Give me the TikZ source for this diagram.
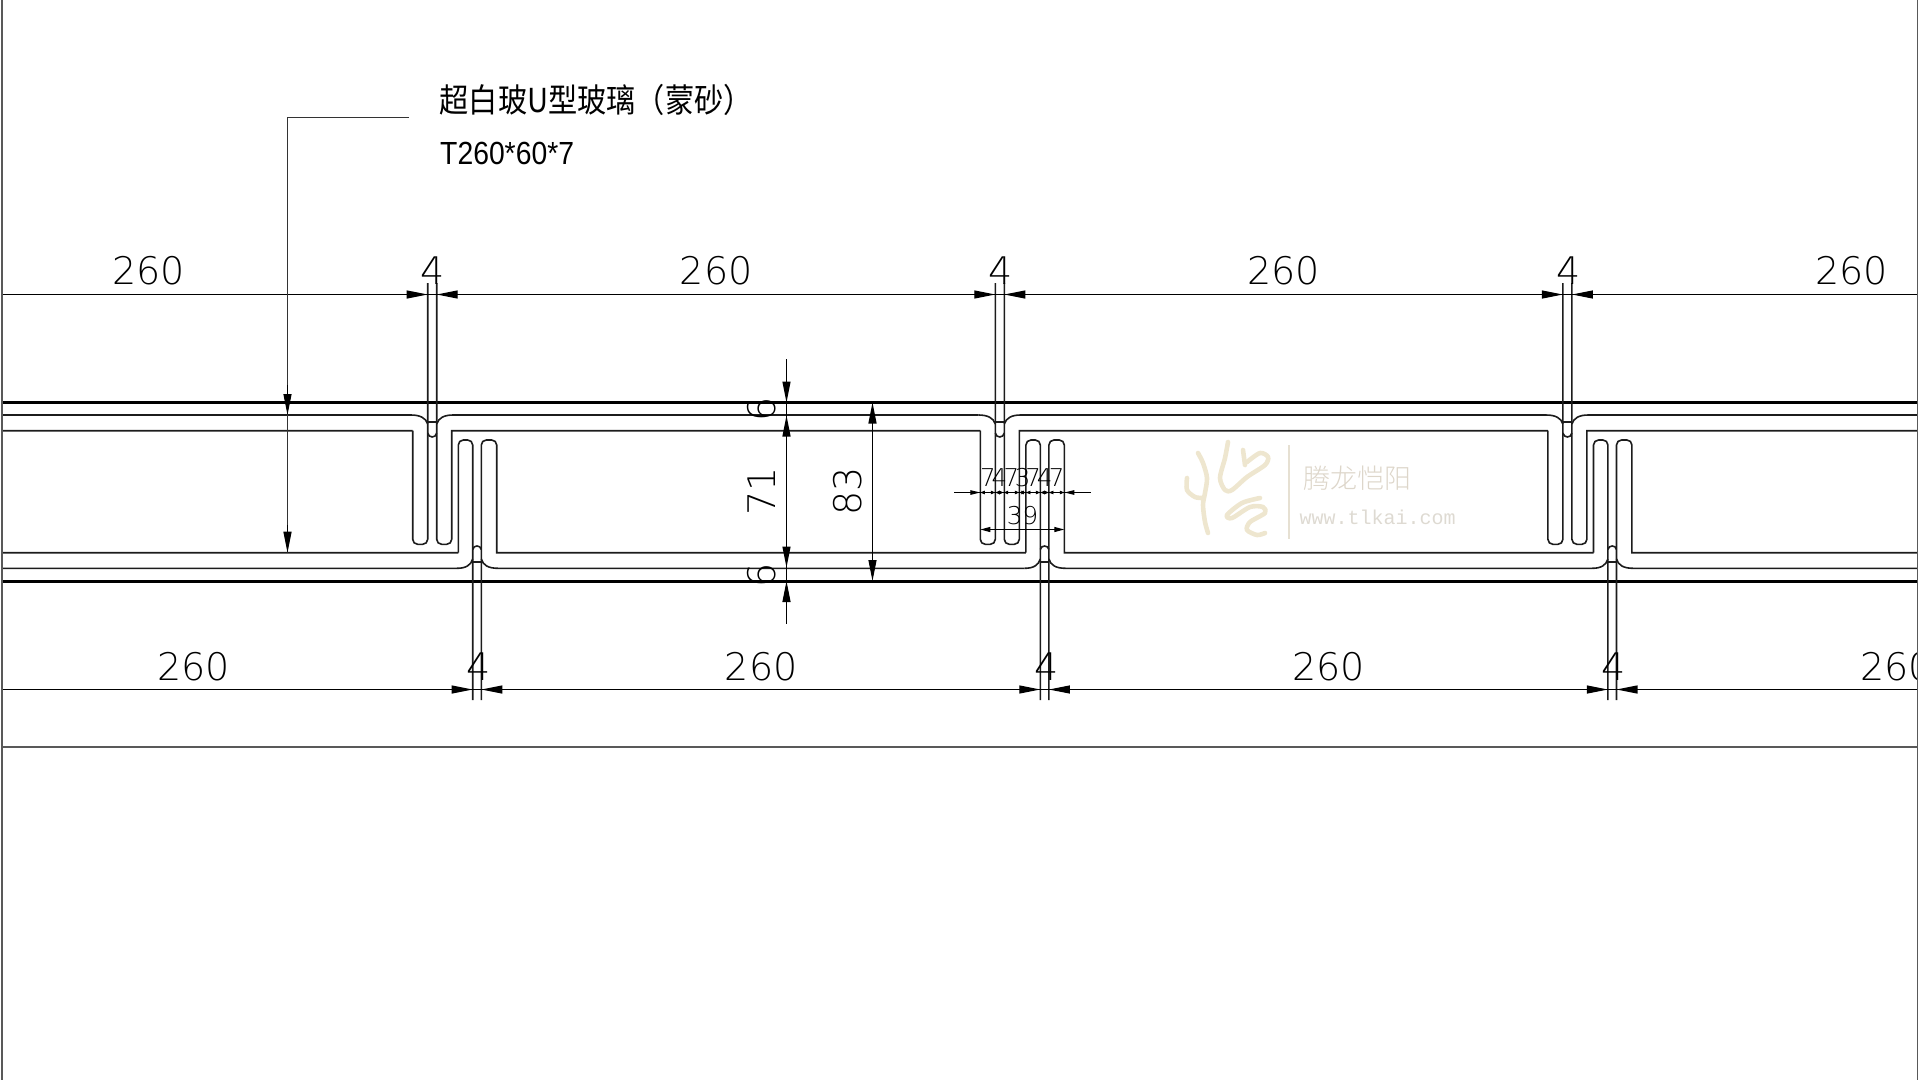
\documentclass[tikz,border=0pt]{standalone}
\usepackage{fontspec}
\usetikzlibrary{arrows.meta}
\newfontfamily\cad{DejaVu Sans ExtraLight}
\newfontfamily\cjkf{Noto Sans CJK SC}
\newfontfamily\cjkl{Noto Sans CJK SC Light}
\newfontfamily\wmono{Liberation Mono}
\newfontfamily\narrow{Liberation Sans}
\definecolor{wmline}{HTML}{E6E0D2}
\definecolor{wmtext}{HTML}{DDD6CA}
\definecolor{wmweb}{HTML}{DEDAD2}
\definecolor{wmlogo}{HTML}{EEE6CF}
\definecolor{linec}{HTML}{1C1C1C}
\tikzset{
  x=1pt,y=-1pt,
  heavy/.style={line width=3pt,draw=black},
  glass/.style={line width=1.6pt,draw=linec},
  dimline/.style={line width=1.15pt,draw=black},
  framel/.style={line width=1.3pt,draw=black!65},
  bigtip/.style={-{Triangle[length=21pt,width=8pt]}},
  dimtxt/.style={font=\cad\fontsize{38}{38}\selectfont,inner sep=0pt,anchor=base,text=black},
  smalltxt/.style={font=\cad\fontsize{24.5}{24.5}\selectfont,inner sep=0pt,anchor=center,text=black},
  rottxt/.style={font=\cad\fontsize{38}{38}\selectfont,inner sep=0pt,anchor=center,rotate=90,text=black},
  wmstroke/.style={line width=4.6pt,draw=wmlogo,line cap=round,line join=round}
}
\begin{document}
\begin{tikzpicture}
\useasboundingbox (0,0) rectangle (1920,1080);
\begin{scope}
\clip (2,0) rectangle (1917.5,1080);
% watermark
\draw[wmstroke] plot[smooth] coordinates {(1198,453) (1203,463) (1207,478) (1205,493) (1203,505) (1205,522) (1208,533)};
\draw[wmstroke] plot[smooth] coordinates {(1187,478) (1187,490) (1195,497) (1203,498)};
\draw[wmstroke] plot[smooth] coordinates {(1228,442) (1225,458) (1220,478) (1225,490) (1232,490) (1247,477) (1265,465) (1268,457) (1260,453) (1247,462)};
\draw[wmstroke] plot[smooth] coordinates {(1243,450) (1245,465)};
\draw[wmstroke] plot[smooth] coordinates {(1260,498) (1242,503) (1227,515) (1232,518) (1250,507) (1263,507) (1265,513) (1250,522) (1247,530) (1257,535) (1265,533)};
\draw[line width=1.4pt,draw=wmline] (1289,445) -- (1289,539);
\node[inner sep=0pt,anchor=center,text=wmtext,font=\cjkl\fontsize{27}{27}\selectfont] (wmname) at (1357.5,478.5) {腾龙恺阳};
\node[inner sep=0pt,anchor=center,text=wmweb,font=\wmono\fontsize{20}{20}\selectfont] (wmsite) at (1377.5,517) {www.tlkai.com};
% heavy lines
\draw[heavy] (0,402.5) -- (1920,402.5);
\draw[heavy] (0,581) -- (1920,581);
% repeated glass panels
\foreach \k in {-1,0,1,2}{
\begin{scope}[xshift=567.6*\k pt]
  % upper U
  \draw[glass] (412.7,430.7) [rounded corners=5pt] -- (412.7,544.3) -- (427.7,544.3) [sharp corners] -- (427.7,283);
  \draw[glass] (436.7,283) [rounded corners=5pt] -- (436.7,544.3) -- (451.7,544.3) [sharp corners] -- (451.7,430.7) -- (980.3,430.7);
  \draw[glass] (411,415) .. controls (420,415) and (426,418) .. (427.7,424);
  \draw[glass] (436.7,424) .. controls (438.5,418) and (444,415) .. (453,415) -- (978.6,415);
  \draw[glass] (427.7,421.7) -- (436.7,421.7);
  \draw[glass] (427.7,433) .. controls (428.5,438.3) and (435.9,438.3) .. (436.7,433);
  % lower U
  \draw[glass] (458.3,552.7) [rounded corners=5pt] -- (458.3,440) -- (472.7,440) [sharp corners] -- (472.7,700);
  \draw[glass] (481.3,700) [rounded corners=5pt] -- (481.3,440) -- (496.7,440) [sharp corners] -- (496.7,552.7) -- (1025.9,552.7);
  \draw[glass] (457,568.3) .. controls (466,568.3) and (471,565) .. (472.7,559);
  \draw[glass] (481.3,559) .. controls (483,565) and (488,568.3) .. (498,568.3) -- (1024.6,568.3);
  \draw[glass] (472.7,561.7) -- (481.3,561.7);
  \draw[glass] (472.7,549.5) .. controls (473.5,544.8) and (480.5,544.8) .. (481.3,549.5);
\end{scope}
}
% horizontal dimension arrows and the "4" labels
\foreach \k in {0,1,2}{
\begin{scope}[xshift=567.6*\k pt]
  \draw[bigtip,dimline] (400,294.5) -- (427.7,294.5);
  \draw[bigtip,dimline] (464,294.5) -- (436.7,294.5);
  \draw[bigtip,dimline] (445,689.5) -- (472.7,689.5);
  \draw[bigtip,dimline] (509,689.5) -- (481.3,689.5);
  \node[dimtxt] at (433,284) {4};
  \node[dimtxt] at (478.5,680) {4};
\end{scope}
}
% the "260" labels
\foreach \k in {0,1,2,3}{
\begin{scope}[xshift=567.6*\k pt]
  \node[dimtxt] at (148.5,284) {260};
  \node[dimtxt] at (193.5,680) {260};
\end{scope}
}
\draw[dimline] (0,294.5) -- (1920,294.5);
\draw[dimline] (0,689.5) -- (1920,689.5);
% frame
\draw[framel] (0,747) -- (1920,747);
% central vertical dimensions
\coordinate (a6t) at (786.5,359);
\coordinate (a6b) at (786.5,624);
\draw[dimline] (a6t) -- (a6b);
\draw[bigtip,dimline] (786.5,375) -- (786.5,402.5);
\draw[bigtip,dimline] (786.5,445) -- (786.5,415.5);
\draw[bigtip,dimline] (786.5,540) -- (786.5,567.5);
\draw[bigtip,dimline] (786.5,610) -- (786.5,581);
\draw[dimline,{Triangle[length=21pt,width=8pt]}-{Triangle[length=21pt,width=8pt]}] (872.5,402.5) -- (872.5,581);
\node[rottxt] (t6a) at (762,409) {6};
\node[rottxt] (t71) at (762,491) {71};
\node[rottxt] (t83) at (848,491.5) {83};
\node[rottxt] (t6b) at (762,575) {6};
% leader
\coordinate (lead0) at (409,117.7);
\coordinate (lead1) at (287.5,117.7);
\coordinate (lead2) at (287.5,415);
\coordinate (lead3) at (287.5,552.7);
\draw[line width=1.4pt,draw=black!80] (lead0) -- (lead1) -- (lead3);
\draw[bigtip,dimline] (287.5,385) -- (lead2);
\draw[bigtip,dimline] (287.5,525) -- (lead3);
\node[inner sep=0pt,anchor=west,font=\cjkf\fontsize{33}{33}\selectfont] (lab1) at (439.5,100) {\scalebox{0.885}[1]{超白玻U型玻璃（蒙砂）}};
\node[inner sep=0pt,anchor=base west,font=\narrow\fontsize{32}{32}\selectfont] (lab2) at (440,164) {\scalebox{0.885}[1]{T260*60*7}};
% small chain dimension
\draw[dimline] (954,492.5) -- (1090.7,492.5);
\foreach \a/\b/\m/\v in {980.3/995.3/987.8/7,995.3/1003.7/999.5/4,1003.7/1019.3/1011.5/7,1019.3/1025.9/1022.6/3,1025.9/1040.3/1033.1/7,1040.3/1048.9/1044.6/4,1048.9/1064.3/1056.6/7}{
  \draw[line width=0.8pt,{Triangle[length=4.5pt,width=3.5pt]}-{Triangle[length=4.5pt,width=3.5pt]}] (\a,492.5) -- (\b,492.5);
  \node[smalltxt] at (\m,478) {\v};
}
\draw[dimline,-{Triangle[length=10pt,width=4.5pt]}] (960,492.5) -- (980.3,492.5);
\draw[dimline,-{Triangle[length=10pt,width=4.5pt]}] (1084,492.5) -- (1064.3,492.5);
\draw[dimline,{Triangle[length=10pt,width=5pt]}-{Triangle[length=10pt,width=5pt]}] (980.3,529.5) -- (1064.3,529.5);
\node[smalltxt] (t39) at (1022.5,515.5) {39};
\end{scope}
\draw[framel] (2,0) -- (2,1080);
\draw[framel] (1917.5,0) -- (1917.5,1080);
\end{tikzpicture}
\end{document}
